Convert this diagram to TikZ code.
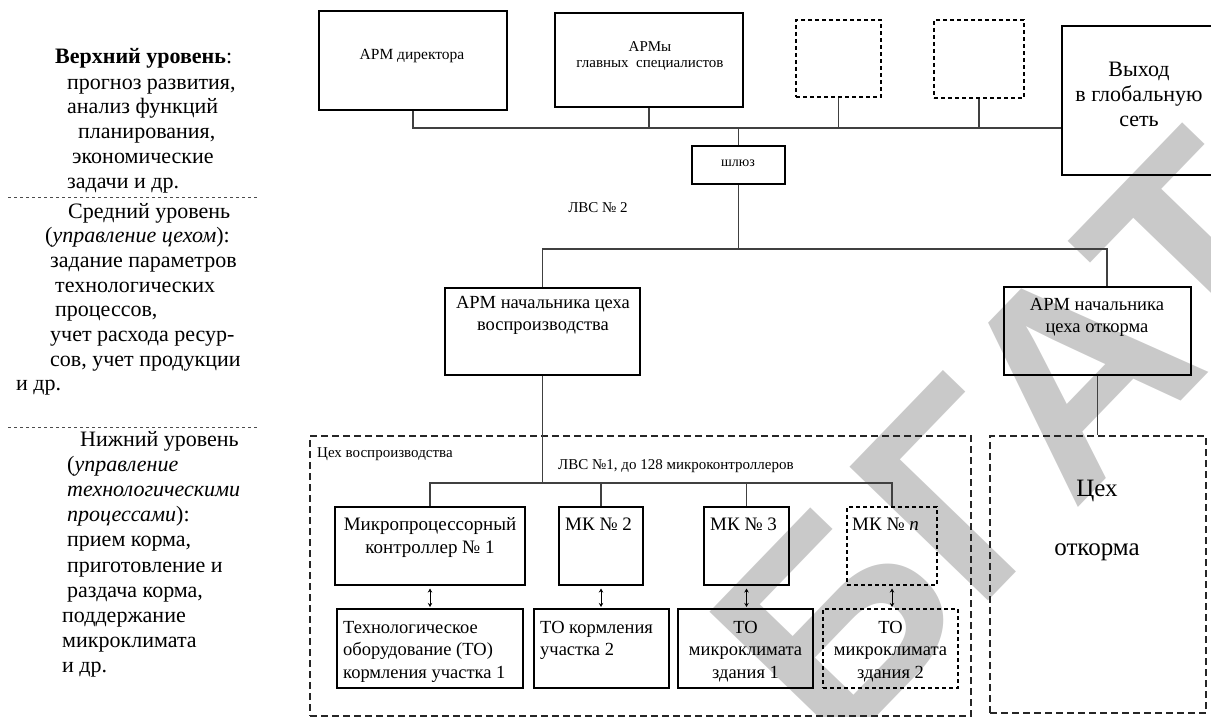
\documentclass[tikz,border=0pt]{standalone}
\usepackage{fontspec}
\setmainfont{Liberation Serif}
\newfontfamily\wmfont{Liberation Sans}
\usetikzlibrary{arrows.meta,calc}

% multi-line text block whose reference point is the first baseline
\newcommand\txtlines[2]{\begin{tabular}[t]{@{}#1@{}}#2\end{tabular}}

\begin{document}
\begin{tikzpicture}[x=1pt,y=-1pt,
  box/.style={draw=black,line width=1.1pt,inner sep=0pt,rectangle},
  dbox/.style={box,dash pattern=on 4pt off 3pt},
  shopbox/.style={box,draw=black!85,dash pattern=on 7pt off 4pt},
  conn/.style={draw=black!75,line width=1.2pt},
  link/.style={draw=black,line width=0.9pt,
    {Stealth[length=4pt,width=4.5pt]}-{Stealth[length=4pt,width=4.5pt]},
    shorten <=3pt,shorten >=1.5pt},
  sep/.style={draw=black!70,line width=0.8pt,dash pattern=on 3pt off 3pt},
  txt/.style={inner sep=0pt,anchor=base},
  txtl/.style={inner sep=0pt,anchor=base west},
  wm/.style={inner sep=0pt,text=black!21,font=\wmfont\bfseries\fontsize{280}{280}\selectfont},
  fsmall/.style={font=\fontsize{15}{16}\selectfont},
  fbox/.style={font=\fontsize{18.5}{22.5}\selectfont},
  fmk/.style={font=\fontsize{19}{23}\selectfont},
  fbig/.style={font=\fontsize{22}{25}\selectfont},
]
\useasboundingbox (0,0) rectangle (1211,717);
\clip (0,0) rectangle (1211,717);

% background stamp
\node[wm,rotate=46] (stamp) at (1010,440) {БГАТ};

% ---------- left column: levels of control ----------
\node[txtl,fbig] (lvtop) at (55,64) {\txtlines{l}{%
  \textbf{Верхний уровень}:\\
  \hspace*{12pt}прогноз развития,\\
  \hspace*{12pt}анализ функций\\
  \hspace*{23pt}планирования,\\
  \hspace*{17pt}экономические\\
  \hspace*{12pt}задачи и др.}};
\coordinate (sepA1) at (8,197);
\coordinate (sepA2) at (258,197);
\draw[sep] (sepA1) -- (sepA2);

\node[txtl,font=\fontsize{22}{24.7}\selectfont] (lvmid) at (16,218) {\txtlines{l}{%
  \hspace*{52pt}Средний уровень\\
  \hspace*{29pt}(\textit{управление цехом}):\\
  \hspace*{34pt}задание параметров\\
  \hspace*{39pt}технологических\\
  \hspace*{39pt}процессов,\\
  \hspace*{34pt}учет расхода ресур-\\
  \hspace*{34pt}сов, учет продукции\\
  и др.}};
\coordinate (sepB1) at (8,427);
\coordinate (sepB2) at (258,427);
\draw[sep] (sepB1) -- (sepB2);

\node[txtl,font=\fontsize{22}{25.2}\selectfont] (lvlow) at (62,446) {\txtlines{l}{%
  \hspace*{18pt}Нижний уровень\\
  \hspace*{5pt}(\textit{управление}\\
  \hspace*{5pt}\textit{технологическими}\\
  \hspace*{5pt}\textit{процессами}):\\
  \hspace*{5pt}прием корма,\\
  \hspace*{5pt}приготовление и\\
  \hspace*{5pt}раздача корма,\\
  поддержание\\
  микроклимата\\
  и др.}};

% ---------- upper network (ЛВС № 2) ----------
\node[box,minimum width=188pt,minimum height=99pt] (dir) at (413,60.5) {};
\node[txt,font=\fontsize{15.5}{16}\selectfont] (dirT) at (412,59.5) {АРМ директора};

\node[box,minimum width=188pt,minimum height=94pt] (spec) at (649,60) {};
\node[txt,font=\fontsize{15}{16}\selectfont] (specT) at (650,51.5)
  {\txtlines{c}{АРМы\\главных\ \ специалистов}};

\node[dbox,minimum width=85pt,minimum height=77pt] (free1) at (838.5,58.5) {};
\node[dbox,minimum width=90pt,minimum height=78pt] (free2) at (979,59) {};

\node[box,minimum width=154pt,minimum height=149pt] (net) at (1139,100.5) {};
\node[txt,fbig] (netT) at (1139,77) {\txtlines{c}{Выход\\в глобальную\\сеть}};

\node[box,minimum width=93pt,minimum height=38pt] (gw) at (738.5,165) {};
\node[txt,font=\fontsize{14}{16}\selectfont] (gwT) at (738,166) {шлюз};

\node[txt,fsmall] (lan2) at (598,212) {ЛВС № 2};

\coordinate (busTop) at (0,128);
\draw[conn] (dir.south) |- (busTop -| net.west);
\draw[conn] (spec.south) -- (spec.south |- busTop);
\draw[conn] (free1.south) -- (free1.south |- busTop);
\draw[conn] (free2.south) -- (free2.south |- busTop);
\draw[conn] (gw.north) -- (gw.north |- busTop);

% ---------- shop workstations ----------
\node[box,minimum width=195pt,minimum height=87pt] (ws1) at (542.5,331.5) {};
\node[txt,fbox] (ws1T) at (543,308) {\txtlines{c}{АРМ начальника цеха\\воспроизводства}};

\node[box,minimum width=187pt,minimum height=88pt] (ws2) at (1097.5,331) {};
\node[txt,fbox] (ws2T) at (1097,310) {\txtlines{c}{АРМ начальника\\цеха откорма}};

\coordinate (busMid) at (0,249);
\coordinate (ws2in) at ($(ws2.north)+(9.5,0)$);
\draw[conn] (gw.south) -- (gw.south |- busMid);
\draw[conn] (ws1.north) |- (busMid -| ws2in) -- (ws2in);

% ---------- shops ----------
\node[shopbox,minimum width=661pt,minimum height=280pt] (shop1) at (640.5,576) {};
\node[txtl,fsmall] (shop1T) at (317,457) {Цех воспроизводства};
\node[txtl,fsmall] (lan1) at (558,469) {ЛВС №1, до 128 микроконтроллеров};

\node[shopbox,minimum width=216pt,minimum height=277pt] (shop2) at (1098,574.5) {};
\node[txt,font=\fontsize{25}{59}\selectfont] (shop2T) at (1097,496) {\txtlines{c}{Цех\\откорма}};

\draw[conn] (ws2.south) -- (ws2.south |- shop2.north);

% ---------- controllers ----------
\node[box,minimum width=190pt,minimum height=78pt] (mk1) at (430,546) {};
\node[txt,fmk] (mk1T) at (430,530) {\txtlines{c}{Микропроцессорный\\контроллер № 1}};

\node[box,minimum width=84pt,minimum height=78pt] (mk2) at (601,546) {};
\node[txtl,fmk] (mk2T) at (565,530.5) {МК № 2};

\node[box,minimum width=85pt,minimum height=78pt] (mk3) at (746.5,546) {};
\node[txtl,fmk] (mk3T) at (710,530.5) {МК № 3};

\node[dbox,minimum width=90pt,minimum height=78pt] (mkn) at (892,546) {};
\node[txtl,fmk] (mknT) at (852,530.5) {МК № \textit{n}};

\coordinate (busLow) at (0,483);
\draw[conn] (ws1.south) -- (ws1.south |- busLow);
\draw[conn] (mk1.north) |- (busLow -| mkn.north) -- (mkn.north);
\draw[conn] (mk2.north) -- (mk2.north |- busLow);
\draw[conn] (mk3.north) -- (mk3.north |- busLow);

% ---------- equipment ----------
\node[box,minimum width=186pt,minimum height=79pt] (to1) at (430,648.5) {};
\node[txtl,fbox] (to1T) at (343,633) {\txtlines{l}{Технологическое\\оборудование (ТО)\\кормления участка 1}};

\node[box,minimum width=135pt,minimum height=79pt] (to2) at (601.5,648.5) {};
\node[txtl,fbox] (to2T) at (540,633) {\txtlines{l}{ТО кормления\\участка 2}};

\node[box,minimum width=135pt,minimum height=79pt] (to3) at (745.5,648.5) {};
\node[txt,fbox] (to3T) at (745.5,633) {\txtlines{c}{ТО\\микроклимата\\здания 1}};

\node[dbox,minimum width=135pt,minimum height=79pt] (to4) at (890.5,648.5) {};
\node[txt,fbox] (to4T) at (890.5,633) {\txtlines{c}{ТО\\микроклимата\\здания 2}};

\draw[link] (mk1.south) -- (to1.north);
\draw[link] (mk2.south) -- (mk2.south |- to2.north);
\draw[link] (mk3.south) -- (mk3.south |- to3.north);
\draw[link] (mkn.south) -- (mkn.south |- to4.north);
\end{tikzpicture}
\end{document}
